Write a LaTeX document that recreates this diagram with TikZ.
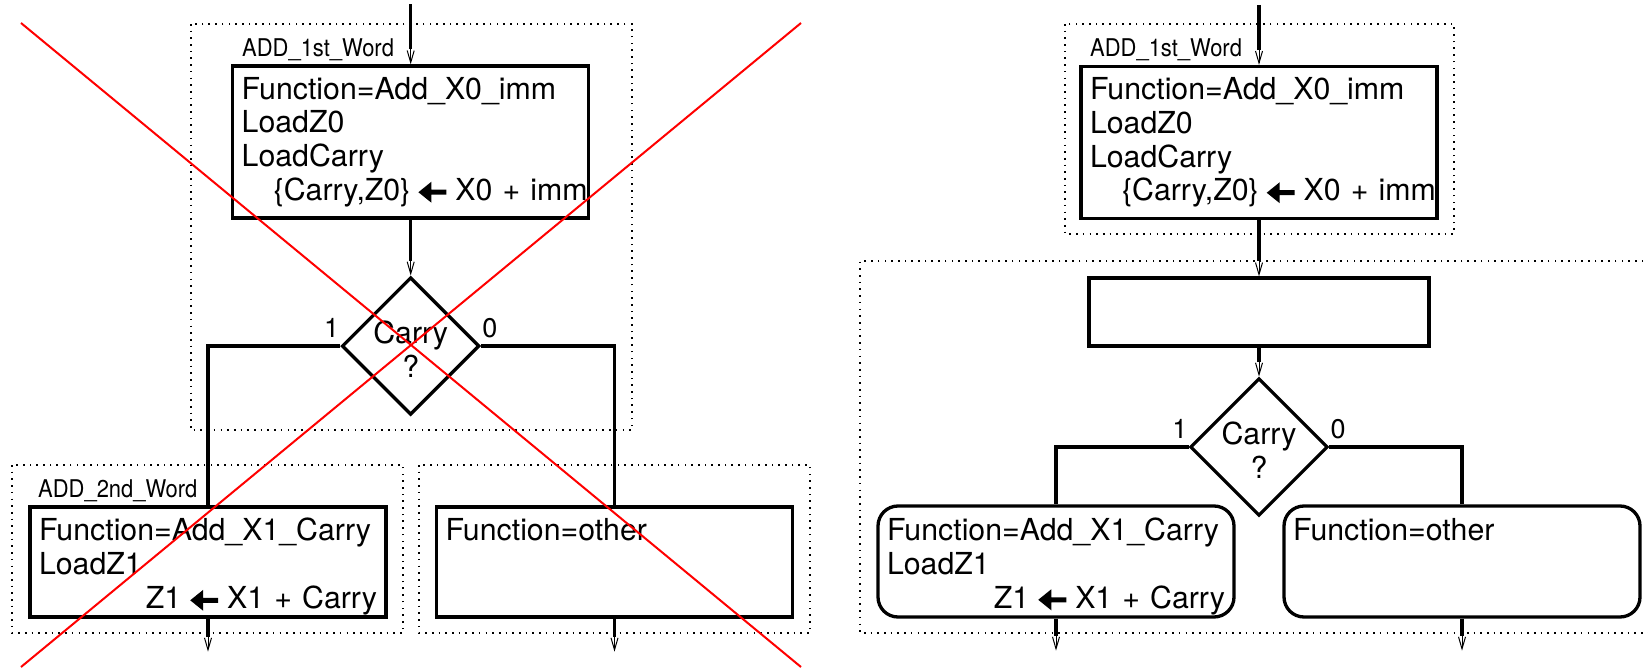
\documentclass[tikz,border=0pt]{standalone}
\usepackage{fontspec}
\setmainfont{TeX Gyre Heros}
\newfontfamily\tagfont{TeX Gyre Heros}[FakeStretch=0.9]
\usetikzlibrary{arrows.meta,calc,shapes.geometric}

% text sizes
\newcommand\mainsize{\fontsize{30.3pt}{33.8pt}\selectfont}
\newcommand\tagsize{\tagfont\fontsize{24.4pt}{26pt}\selectfont}
\newcommand\numsize{\fontsize{27pt}{30pt}\selectfont}

% bold left arrow used for register transfers
\newcommand\getsarrow{\tikz[baseline=0pt,sharp corners]\fill (0pt,8.2pt) -- (13pt,18.7pt) -- (13pt,10.7pt) -- (28pt,10.7pt) -- (28pt,5.7pt) -- (13pt,5.7pt) -- (13pt,-2.3pt) -- cycle;}

% flow arrow: thick shaft, thin last part with a barb tip
\newcommand\flowto[2]{%
  \draw[flowline] #1 -- ($#2+(0,-15)$);
  \draw[flowtip] ($#2+(0,-15)$) -- #2;}

\tikzset{
  flowbox/.style={draw, line width=3.3pt, rectangle, minimum width=356pt, minimum height=152pt,
    inner xsep=9pt, inner ysep=0pt, text width=338pt, align=left, font=\mainsize},
  roundbox/.style={flowbox, rounded corners=20pt, minimum height=111pt},
  decide/.style={draw, line width=3.3pt, diamond, aspect=1, minimum width=136pt, minimum height=136pt,
    inner sep=0pt, align=center, font=\mainsize},
  flowline/.style={line width=3.3pt, line join=miter},
  flowtip/.style={line width=1pt, -{Straight Barb[length=12pt,width=7pt]}},
  frameline/.style={line width=1.6pt, dash pattern=on 1.6pt off 5.1pt},
  grouptag/.style={font=\tagsize, inner sep=0pt, anchor=base west},
  branchnum/.style={font=\numsize, inner sep=0pt},
  crossline/.style={red, line width=2pt}
}

\begin{document}
\begin{tikzpicture}[x=1pt,y=-1pt]
\useasboundingbox (0,0) rectangle (1648,668);

% ---------------- left flow ----------------
\draw[frameline] (191,24) rectangle (632,430);
\draw[frameline] (12,465) rectangle (403,633);
\draw[frameline] (419,465) rectangle (810,633);

\node[grouptag] (tagA) at (242,57) {ADD\_1st\_Word};
\node[grouptag] (tagB) at (38,497) {ADD\_2nd\_Word};

\node[flowbox] (b1) at (410.7,142) {Function=Add\_X0\_imm\\LoadZ0\\LoadCarry\\\mbox{\hspace*{32pt}\{Carry,Z0\}\hspace{8pt}\getsarrow\hspace{9pt}X0 + imm}};
\node[decide] (d1) at (410.7,346) {\rule{0pt}{29pt}Carry\\?};
\node[flowbox, minimum height=110pt] (b2) at (208,562) {\rule{0pt}{32pt}Function=Add\_X1\_Carry\\LoadZ1\\\hspace*{\fill}Z1\hspace{9pt}\getsarrow\hspace{9pt}X1 + Carry\hspace*{7pt}};
\node[flowbox, minimum height=110pt] (b3) at (614.5,562) {\rule{0pt}{32pt}Function=other\\\mbox{}\\\vphantom{Cy}};

\node[branchnum, anchor=base east] (d1one) at ($(d1.west)+(-1,-9)$) {1};
\node[branchnum, anchor=base west] (d1zero) at ($(d1.east)+(1,-9)$) {0};

\coordinate (in1) at ($(b1.north)+(0,-60)$);
\coordinate (out2) at ($(b2.south)+(0,33)$);
\coordinate (out3) at ($(b3.south)+(0,33)$);
\flowto{(in1)}{(b1.north)}
\flowto{(b1.south)}{(d1.north)}
\draw[flowline] (d1.west) -| (b2.north);
\draw[flowline] (d1.east) -| (b3.north);
\flowto{(b2.south)}{(out2)}
\flowto{(b3.south)}{(out3)}

% ---------------- right flow ----------------
\draw[frameline] (1065,24) rectangle (1454,234);
\draw[frameline] (1670,261) -| (860,633) -- (1670,633);

\node[grouptag] (tagC) at (1090,57) {ADD\_1st\_Word};

\node[flowbox] (c1) at (1259,142.5) {Function=Add\_X0\_imm\\LoadZ0\\LoadCarry\\\mbox{\hspace*{32pt}\{Carry,Z0\}\hspace{8pt}\getsarrow\hspace{9pt}X0 + imm}};
\node[flowbox, minimum width=340pt, minimum height=68pt, text width=322pt] (c2) at (1259,312) {};
\node[decide] (c3) at (1259,447) {\rule{0pt}{29pt}Carry\\?};
\node[roundbox] (r1) at (1056,561.5) {\rule{0pt}{32pt}Function=Add\_X1\_Carry\\LoadZ1\\\hspace*{\fill}Z1\hspace{9pt}\getsarrow\hspace{9pt}X1 + Carry\hspace*{7pt}};
\node[roundbox] (r2) at (1462,561.5) {\rule{0pt}{32pt}Function=other\\\mbox{}\\\vphantom{Cy}};

\node[branchnum, anchor=base east] (c3one) at ($(c3.west)+(-1,-9)$) {1};
\node[branchnum, anchor=base west] (c3zero) at ($(c3.east)+(1,-9)$) {0};

\coordinate (in2) at ($(c1.north)+(0,-60)$);
\coordinate (outr1) at ($(r1.south)+(0,32)$);
\coordinate (outr2) at ($(r2.south)+(0,32)$);
\flowto{(in2)}{(c1.north)}
\flowto{(c1.south)}{(c2.north)}
\flowto{(c2.south)}{(c3.north)}
\draw[flowline] (c3.west) -| (r1.north);
\draw[flowline] (c3.east) -| (r2.north);
\flowto{(r1.south)}{(outr1)}
\flowto{(r2.south)}{(outr2)}

% ---------------- crossed out ----------------
\draw[crossline] (21,23) -- (801,667);
\draw[crossline] (801,23) -- (21,667);
\end{tikzpicture}
\end{document}
